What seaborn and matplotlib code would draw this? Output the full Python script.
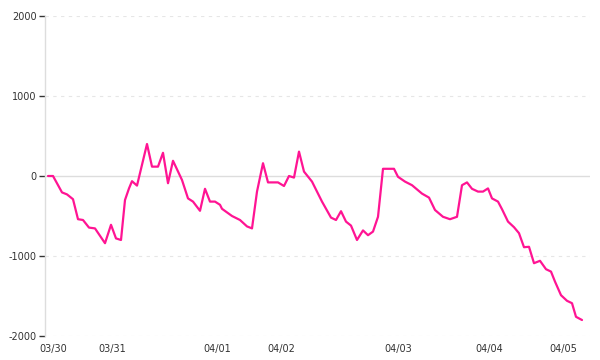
import matplotlib
matplotlib.use("Agg")
import matplotlib.pyplot as plt
import seaborn as sns
import pandas as pd

# time index (sample position) and values
t = [0, 5, 14, 19, 25, 30, 35, 41, 47, 57, 63, 68, 73, 77, 81, 84, 89, 99, 104, 110,
     115, 120, 125, 134, 140, 145, 152, 157, 162, 167, 172, 174, 184, 192, 199, 204, 209,
     215, 220, 230, 236, 241, 246, 251, 256, 264, 274, 283, 288, 293, 298, 303, 309, 315,
     320, 325, 330, 335, 346, 350, 357, 364, 374, 381, 387, 395, 402, 409, 414, 419, 424,
     430, 435, 440, 444, 450, 454, 460, 466, 471, 476, 481, 486, 492, 498, 503, 507, 513,
     519, 524, 528, 534]
values = [0, 0, -205, -230, -290, -540, -550, -645, -655, -840, -610, -780, -800, -300,
          -155, -65, -120, 400, 117, 117, 290, -90, 190, -50, -280, -320, -435, -160, -320,
          -320, -360, -410, -500, -550, -630, -655, -195, 160, -80, -80, -125, 0, -20, 305,
          55, -70, -320, -520, -550, -440, -570, -620, -800, -680, -740, -695, -510, 90, 90,
          -10, -70, -115, -220, -270, -425, -510, -540, -510, -115, -80, -160, -195, -195,
          -155, -280, -320, -415, -570, -640, -715, -890, -885, -1090, -1060, -1165, -1195,
          -1320, -1490, -1560, -1590, -1760, -1800]

tick_pos = [5, 64, 169, 233, 350, 441, 515]
tick_labels = ["03/30", "03/31", "04/01", "04/02", "04/03", "04/04", "04/05"]
y_ticks = [-2000, -1000, 0, 1000, 2000]

df = pd.DataFrame({"t": t, "v": values})

sns.set_style("white")
plt.rcParams["font.family"] = ["DejaVu Sans"]
plt.rcParams["axes.unicode_minus"] = False

fig = plt.figure(figsize=(6, 3.6), dpi=100)
ax = fig.add_axes([45 / 600, 1 - 336 / 360, 545 / 600, 320 / 360])

sns.lineplot(data=df, x="t", y="v", ax=ax, color="#ff1493", linewidth=1.6)

ax.set_xlim(-3, 542)
ax.set_ylim(-2000, 2000)

for y in y_ticks:
    if y == 0:
        ax.axhline(y, color="#dddddd", linewidth=1, zorder=0)
    else:
        ax.axhline(y, color="#e6e6e6", linewidth=0.8, linestyle=(0, (3, 4)), zorder=0)

ax.set_yticks(y_ticks)
ax.set_yticklabels([str(v) for v in y_ticks], fontsize=7, color="#333333")
ax.set_xticks(tick_pos)
ax.set_xticklabels(tick_labels, fontsize=7, color="#333333")

ax.tick_params(axis="y", length=4, width=1, color="#333333", pad=2, left=True)
ax.tick_params(axis="x", length=0, pad=6)

for s in ["top", "right", "bottom"]:
    ax.spines[s].set_visible(False)
ax.spines["left"].set_color("#dddddd")
ax.spines["left"].set_linewidth(1)

ax.set_xlabel("")
ax.set_ylabel("")

fig.savefig("out.png", dpi=100)
